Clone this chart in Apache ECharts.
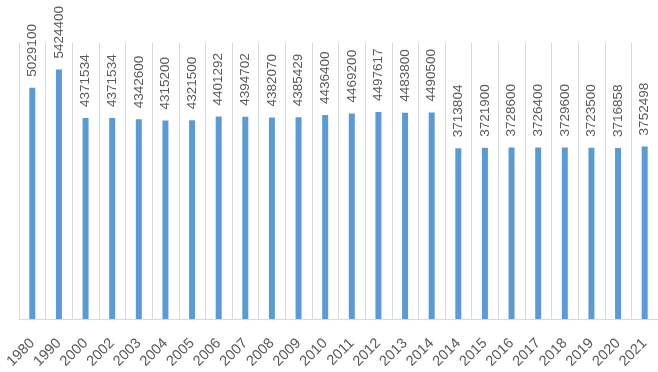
<!DOCTYPE html>
<html>
<head>
<meta charset="utf-8">
<script src="https://cdn.jsdelivr.net/npm/echarts@6/dist/echarts.min.js"></script>
<style>
html,body{margin:0;padding:0;background:#fff;}
#chart{width:658px;height:372px;}
</style>
</head>
<body>
<div id="chart"></div>
<script>
const categories = ["1980","1990","2000","2002","2003","2004","2005","2006","2007","2008","2009","2010","2011","2012","2013","2014","2014","2015","2016","2017","2018","2019","2020","2021"];
const values = [5029100,5424400,4371534,4371534,4342600,4315200,4321500,4401292,4394702,4382070,4385429,4436400,4469200,4497617,4483800,4490500,3713804,3721900,3728600,3726400,3729600,3723500,3716858,3752498];

const chart = echarts.init(document.getElementById('chart'), null, {renderer: 'canvas'});
chart.setOption({
  animation: false,
  backgroundColor: '#ffffff',
  grid: {left: 19, right: 0, top: 43, bottom: 53, containLabel: false},
  xAxis: {
    type: 'category',
    data: categories,
    axisLine: {show: true, lineStyle: {color: '#d9d9d9', width: 1}},
    axisTick: {show: false},
    splitLine: {show: true, interval: 0, lineStyle: {color: '#d9d9d9', width: 1}},
    axisLabel: {interval: 0, rotate: 45, margin: 22, color: '#595959', fontFamily: 'Liberation Sans', fontSize: 14.5}
  },
  yAxis: {
    type: 'value',
    min: 0, max: 6000000,
    show: false,
    splitLine: {show: false}
  },
  series: [{
    type: 'bar',
    data: values,
    barWidth: 6,
    itemStyle: {color: '#5b9bd5'},
    label: {
      show: true,
      position: 'top',
      rotate: 90,
      align: 'left',
      verticalAlign: 'middle',
      distance: 11,
      color: '#595959',
      fontFamily: 'Liberation Sans',
      fontSize: 13.5
    }
  }]
});
</script>
</body>
</html>
